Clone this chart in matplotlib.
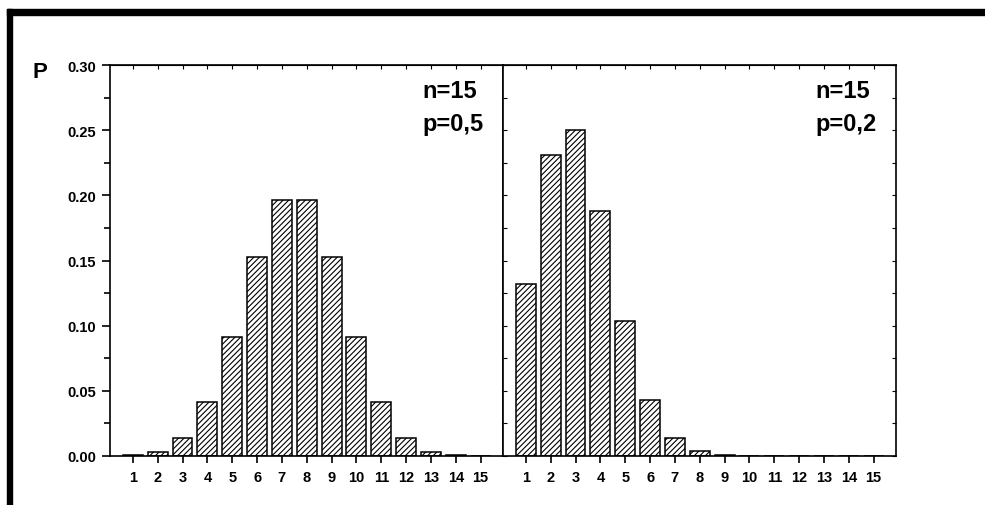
import numpy as np
import matplotlib.pyplot as plt
from matplotlib.patches import Rectangle

plt.rcParams['font.family'] = ['Liberation Sans', 'DejaVu Sans']
plt.rcParams['font.weight'] = 'bold'
plt.rcParams['hatch.linewidth'] = 0.8

# valores
k = [1, 2, 3, 4, 5, 6, 7, 8, 9, 10, 11, 12, 13, 14, 15]
p_05 = [0.0005, 0.0032, 0.0139, 0.0417, 0.0916, 0.1527, 0.1964, 0.1964,
        0.1527, 0.0916, 0.0417, 0.0139, 0.0032, 0.0005, 0.0001]
p_02 = [0.1319, 0.2309, 0.2501, 0.1876, 0.1032, 0.0430, 0.0138, 0.0035,
        0.0007, 0.0001, 0.0, 0.0, 0.0, 0.0, 0.0]
rotulos = [['n=15', 'p=0,5'], ['n=15', 'p=0,2']]

fig = plt.figure(figsize=(9.85, 5.06), dpi=100)
w = 393 / 985
ax1 = fig.add_axes([110 / 985, 1 - 457 / 506, w, 391 / 506])
ax2 = fig.add_axes([110 / 985 + w, 1 - 457 / 506, w, 391 / 506], sharey=ax1)

for ax, y, txt in zip([ax1, ax2], [p_05, p_02], rotulos):
    ax.bar(k, y, width=0.8, color='white', edgecolor='black',
           linewidth=1.1, hatch='//////')
    ax.set_xlim(0.08, 15.9)
    ax.set_ylim(0, 0.30)
    ax.set_xticks(k)
    ax.set_xticklabels([str(i) for i in k], fontsize=10.5, fontweight='bold')
    ax.tick_params(axis='x', direction='out', length=5, width=1.2, pad=5)
    for s in ax.spines.values():
        s.set_linewidth(1.2)
    sx = ax.secondary_xaxis('top')
    sx.set_xticks(k)
    sx.tick_params(direction='in', length=3, width=0.8, labeltop=False)
    ax.text(0.795, 0.935, txt[0], transform=ax.transAxes, fontsize=17,
            fontweight='bold', va='center', ha='left')
    ax.text(0.795, 0.85, txt[1], transform=ax.transAxes, fontsize=17,
            fontweight='bold', va='center', ha='left')

ax1.set_yticks(np.arange(0, 0.301, 0.05))
ax1.set_yticks(np.arange(0.025, 0.30, 0.05), minor=True)
ax1.set_yticklabels(['%.2f' % v for v in np.arange(0, 0.301, 0.05)],
                    fontsize=10.5, fontweight='bold')
ax1.tick_params(axis='y', which='major', direction='out', length=6, width=1.2, pad=4)
ax1.tick_params(axis='y', which='minor', direction='out', length=4, width=1.2)
ax2.tick_params(axis='y', which='both', direction='in', length=3, width=0.8,
                labelleft=False, right=True)

fig.text(33 / 985, 1 - 72 / 506, 'P', fontsize=16, fontweight='bold',
         ha='left', va='center')

# moldura preta
fig.add_artist(Rectangle((7 / 985, 1 - 16 / 506), 1, 6 / 506,
                         transform=fig.transFigure, color='black', zorder=10))
fig.add_artist(Rectangle((7 / 985, 0), 5 / 985, 1 - 10 / 506,
                         transform=fig.transFigure, color='black', zorder=10))

plt.savefig('out.png', dpi=100)
